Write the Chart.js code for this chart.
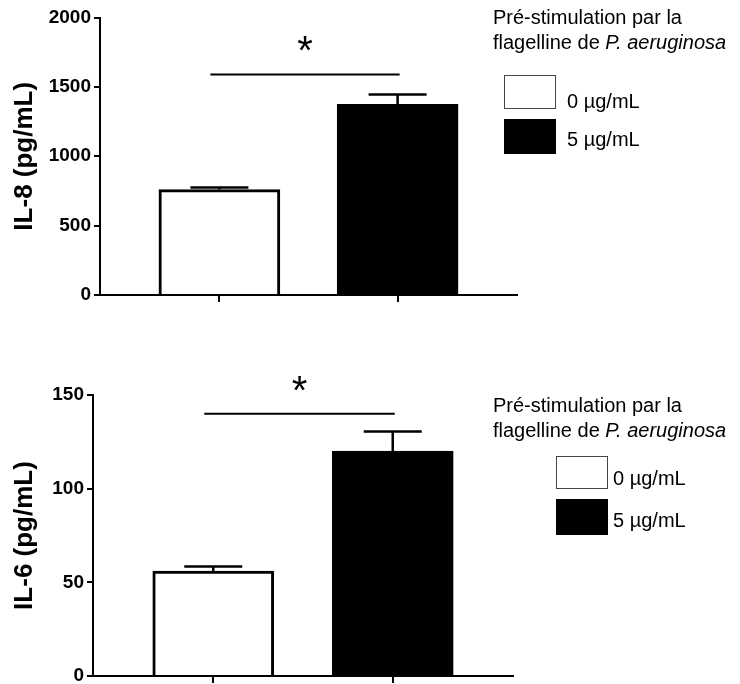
<!DOCTYPE html>
<html>
<head>
<meta charset="utf-8">
<script src="https://cdn.jsdelivr.net/npm/chart.js@4.4.1/dist/chart.umd.min.js"></script>
<style>
  body { margin: 0; background: #fff; }
  #wrap { position: relative; width: 740px; height: 684px; overflow: hidden; font-family: "Liberation Sans", Arial, sans-serif; }
  canvas { position: absolute; left: 0; }
  .txt { position: absolute; font-size: 20px; line-height: 20px; color: #000; white-space: nowrap; }
  .box { position: absolute; width: 52px; box-sizing: border-box; }
</style>
</head>
<body>
<div id="wrap">
  <canvas id="il8Chart" width="740" height="342" style="top:0"></canvas>
  <canvas id="il6Chart" width="740" height="342" style="top:342px"></canvas>

  <div class="txt" style="left:493px; top:7px">Pré-stimulation par la</div>
  <div class="txt" style="left:493px; top:32px">flagelline de <i>P. aeruginosa</i></div>
  <div class="box" style="left:504px; top:75px; height:34px; border:1px solid #444; background:#fff"></div>
  <div class="box" style="left:504px; top:119px; height:35px; background:#000"></div>
  <div class="txt" style="left:567px; top:91px">0 µg/mL</div>
  <div class="txt" style="left:567px; top:129px">5 µg/mL</div>

  <div class="txt" style="left:493px; top:395px">Pré-stimulation par la</div>
  <div class="txt" style="left:493px; top:420px">flagelline de <i>P. aeruginosa</i></div>
  <div class="box" style="left:556px; top:456px; height:33px; border:1px solid #444; background:#fff"></div>
  <div class="box" style="left:556px; top:499px; height:36px; background:#000"></div>
  <div class="txt" style="left:613px; top:468px">0 µg/mL</div>
  <div class="txt" style="left:613px; top:510px">5 µg/mL</div>
</div>
<script>
var groups = ['0 µg/mL', '5 µg/mL'];
var barColors = ['#ffffff', '#000000'];

var il8 = [760, 1375];
var il8Err = [15, 70];
var il8Sig = 1590;

var il6 = [56, 120];
var il6Err = [2.5, 10.5];
var il6Sig = 140;

// error bars, significance line and star
var annotate = {
  id: 'annotate',
  afterDatasetsDraw: function (chart, args, opts) {
    var c = chart.ctx, ys = chart.scales.y;
    var bars = chart.getDatasetMeta(0).data;
    c.save();
    c.strokeStyle = '#000';
    c.lineWidth = 2.5;
    bars.forEach(function (bar, i) {
      var v = opts.values[i], e = opts.errors[i];
      var y0 = ys.getPixelForValue(v), y1 = ys.getPixelForValue(v + e);
      c.beginPath();
      c.moveTo(bar.x, y0);
      c.lineTo(bar.x, y1);
      c.moveTo(bar.x - 29, y1);
      c.lineTo(bar.x + 29, y1);
      c.stroke();
    });
    var sy = ys.getPixelForValue(opts.sig);
    var xa = bars[0].x - 9, xb = bars[1].x + 2;
    c.lineWidth = 2;
    c.beginPath();
    c.moveTo(xa, sy);
    c.lineTo(xb, sy);
    c.stroke();
    c.fillStyle = '#000';
    c.font = '40px "Liberation Sans", Arial';
    c.textAlign = 'center';
    c.textBaseline = 'alphabetic';
    c.fillText('*', (xa + xb) / 2, sy - 10);
    c.restore();
  }
};

function makeChart(id, values, errors, sig, yMax, step, title, pad, yWidth, xHeight) {
  return new Chart(document.getElementById(id).getContext('2d'), {
    type: 'bar',
    data: {
      datasets: [{
        data: values.map(function (v, i) { return { x: i, y: v }; }),
        backgroundColor: barColors,
        borderColor: '#000',
        borderWidth: 3,
        barThickness: 121
      }]
    },
    options: {
      responsive: false,
      animation: false,
      events: [],
      layout: { padding: pad },
      plugins: {
        legend: { display: false },
        tooltip: { enabled: false },
        annotate: { values: values, errors: errors, sig: sig }
      },
      scales: {
        x: {
          type: 'linear',
          min: -0.67,
          max: 1.67,
          offset: false,
          grid: { offset: false, drawOnChartArea: false, drawTicks: true, tickLength: 7, color: '#000', lineWidth: 2 },
          border: { color: '#000', width: 2 },
          ticks: { callback: function () { return ''; } },
          afterBuildTicks: function (s) { s.ticks = groups.map(function (g, i) { return { value: i }; }); },
          afterFit: function (s) { s.height = xHeight; s.paddingLeft = 0; s.paddingRight = 0; }
        },
        y: {
          min: 0,
          max: yMax,
          grid: { drawOnChartArea: false, drawTicks: true, tickLength: 6, color: '#000', lineWidth: 2 },
          border: { color: '#000', width: 2 },
          ticks: {
            stepSize: step, color: '#000', padding: 3,
            font: { family: '"Liberation Sans", Arial', size: 19, weight: 'bold' },
            callback: function (v) { return String(v); }
          },
          title: { display: true, text: title, color: '#000', padding: { top: 9, bottom: 0 }, font: { family: '"Liberation Sans", Arial', size: 26, weight: 'bold' } },
          afterFit: function (s) { s.width = yWidth; s.paddingTop = 0; s.paddingBottom = 0; }
        }
      }
    },
    plugins: [annotate]
  });
}

makeChart('il8Chart', il8, il8Err, il8Sig, 2000, 500, 'IL-8 (pg/mL)', { top: 17.5, right: 223, left: 0, bottom: 0 }, 100, 47);
makeChart('il6Chart', il6, il6Err, il6Sig, 150, 50, 'IL-6 (pg/mL)', { top: 53, right: 227, left: 0, bottom: 0 }, 93, 8);
</script>
</body>
</html>
